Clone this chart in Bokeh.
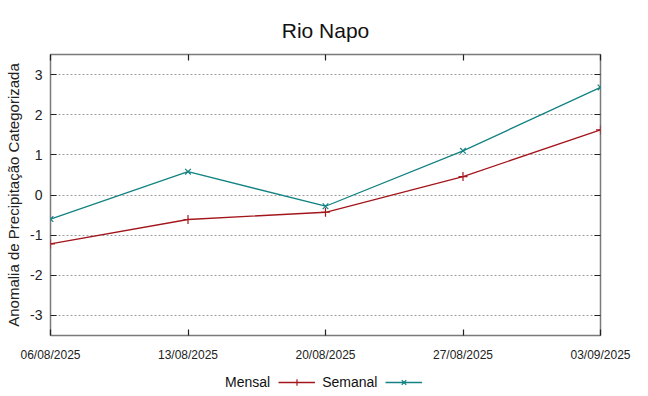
import pandas as pd
from bokeh.plotting import figure
from bokeh.layouts import column
from bokeh.models import (ColumnDataSource, FixedTicker, DatetimeTickFormatter, LinearAxis,
                          DatetimeAxis, Legend, LegendItem, Range1d)
from bokeh.embed import file_html
from bokeh.resources import INLINE

dates = ["2025-08-06", "2025-08-13", "2025-08-20", "2025-08-27", "2025-09-03"]
mensal = [-1.22, -0.61, -0.43, 0.46, 1.62]
semanal = [-0.60, 0.58, -0.28, 1.10, 2.68]
y_ticks = [-3, -2, -1, 0, 1, 2, 3]
y_tick_labels = ["-3", "-2", "-1", "0", "1", "2", "3"]
series_names = ["Mensal", "Semanal"]

FONT = "Liberation Sans"
RED = "#a3161c"
TEAL = "#148282"
FRAME = "#7a7a7a"
INK = "#222222"

x = pd.to_datetime(dates)
tick_ms = [float(d.value // 10**6) for d in x]
src = ColumnDataSource(dict(x=tick_ms, mensal=mensal, semanal=semanal))

p = figure(width=640, height=364, output_backend="svg", toolbar_location=None,
           x_axis_type="datetime",
           x_range=Range1d(tick_ms[0], tick_ms[-1]), y_range=Range1d(-3.5, 3.5),
           min_border_left=50, min_border_right=40, min_border_top=54, min_border_bottom=28)

p.title.text = "Rio Napo"
p.title.align = "center"
p.title.text_font = FONT
p.title.text_font_size = "21px"
p.title.text_font_style = "normal"
p.title.text_color = "#111111"
p.title.standoff = 26

p.outline_line_color = FRAME
p.outline_line_width = 1.5
p.background_fill_color = "white"
p.border_fill_color = "white"

xa = p.xaxis[0]
xa.ticker = FixedTicker(ticks=tick_ms)
xa.formatter = DatetimeTickFormatter(days="%d/%m/%Y", months="%d/%m/%Y", hours="%d/%m/%Y")
xa.axis_line_color = None
xa.major_tick_in = 6
xa.major_tick_out = 0
xa.major_tick_line_color = INK
xa.major_tick_line_width = 1.2
xa.minor_tick_line_color = None
xa.major_label_text_font = FONT
xa.major_label_text_font_size = "12px"
xa.major_label_text_color = INK
xa.major_label_standoff = 12

ya = p.yaxis[0]
ya.ticker = FixedTicker(ticks=y_ticks)
ya.major_label_overrides = {t: s for t, s in zip(y_ticks, y_tick_labels)}
ya.axis_line_color = None
ya.major_tick_in = 6
ya.major_tick_out = 0
ya.major_tick_line_color = INK
ya.major_tick_line_width = 1.2
ya.minor_tick_line_color = None
ya.major_label_text_font = FONT
ya.major_label_text_font_size = "14px"
ya.major_label_text_color = INK
ya.major_label_standoff = 8
ya.axis_label = "Anomalia de Precipitação Categorizada"
ya.axis_label_text_font = FONT
ya.axis_label_text_font_size = "15px"
ya.axis_label_text_font_style = "normal"
ya.axis_label_text_color = INK
ya.axis_label_standoff = 5

ra = LinearAxis(ticker=FixedTicker(ticks=y_ticks), axis_line_color=None,
                major_tick_in=6, major_tick_out=0, major_tick_line_color=INK,
                major_tick_line_width=1.2, minor_tick_line_color=None,
                major_label_overrides={t: "" for t in y_ticks})
p.add_layout(ra, "right")
ta = DatetimeAxis(ticker=FixedTicker(ticks=tick_ms), axis_line_color=None,
                  major_tick_in=6, major_tick_out=0, major_tick_line_color=INK,
                  major_tick_line_width=1.2, minor_tick_line_color=None,
                  major_label_overrides={t: "" for t in tick_ms})
p.add_layout(ta, "above")

p.xgrid.grid_line_color = None
p.ygrid.ticker = FixedTicker(ticks=y_ticks)
p.ygrid.grid_line_color = "#9a9a9a"
p.ygrid.grid_line_dash = "2 2"
p.ygrid.grid_line_width = 1

p.line("x", "mensal", source=src, line_color=RED, line_width=1.3)
p.scatter("x", "mensal", source=src, marker="cross", size=9, line_color=RED, line_width=1.2)
p.line("x", "semanal", source=src, line_color=TEAL, line_width=1.3)
p.scatter("x", "semanal", source=src, marker="x", size=8, line_color=TEAL, line_width=1.2)

# legend strip below the chart (label first, then sample, as in the reference);
# its proxy renderers reuse the data but fall outside this strip's ranges
lg = figure(width=640, height=28, output_backend="svg", toolbar_location=None,
            x_axis_type=None, y_axis_type=None, x_range=Range1d(0, 1), y_range=Range1d(100, 101),
            min_border_left=0, min_border_right=0, min_border_top=0, min_border_bottom=0)
lg.outline_line_color = None
lg.xgrid.visible = False
lg.ygrid.visible = False
dummy = lg.line("x", "mensal", source=src, line_alpha=0)
lm = lg.line("x", "mensal", source=src, line_color=RED, line_width=1.3)
mm = lg.scatter("x", "mensal", source=src, marker="cross", size=9, line_color=RED, line_width=1.2)
ls = lg.line("x", "semanal", source=src, line_color=TEAL, line_width=1.3)
ms = lg.scatter("x", "semanal", source=src, marker="x", size=8, line_color=TEAL, line_width=1.2)

legend = Legend(items=[
    LegendItem(label=series_names[0], renderers=[dummy]),
    LegendItem(label=series_names[1], renderers=[lm, mm]),
    LegendItem(label=" ", renderers=[ls, ms]),
], orientation="horizontal", location=(131, 2),
    glyph_width=37, glyph_height=16, label_standoff=7, spacing=8,
    padding=0, margin=0, border_line_color=None, background_fill_alpha=0,
    label_text_font=FONT, label_text_font_size="14px", label_text_color="#111111")
lg.add_layout(legend, "center")

layout = column(p, lg, spacing=0)
open("out.html", "w").write(file_html(layout, INLINE))
